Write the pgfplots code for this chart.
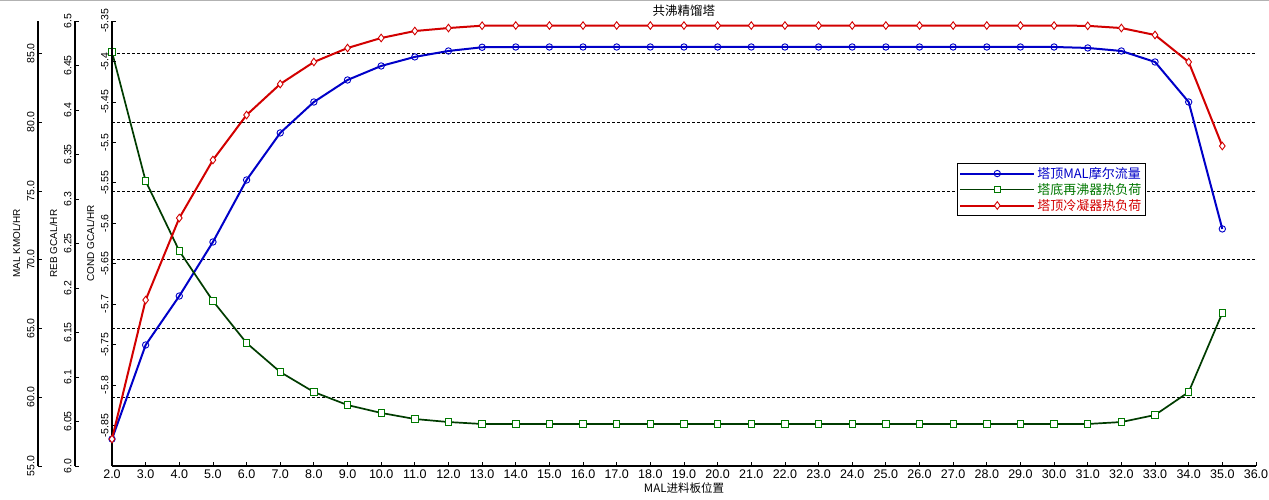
\documentclass[border=0pt]{standalone}
\usepackage{fontspec}
\setmainfont{Liberation Sans}
\newfontfamily\cjk{Noto Sans CJK SC}
\usepackage{pgfplots}
\pgfplotsset{compat=1.18}
\definecolor{malblue}{RGB}{0,0,200}
\definecolor{rebgreen}{RGB}{0,60,0}
\definecolor{rebmark}{RGB}{0,120,0}
\definecolor{condred}{RGB}{210,0,0}
\begin{document}
\begin{tikzpicture}
\path[use as bounding box] (0,0) rectangle (1269pt,500pt);
\draw[gray!60, line width=1.2pt] (0,499.4pt) -- (1269pt,499.4pt);
\pgfplotsset{
  base/.style={
    at={(112pt,34pt)}, anchor=south west,
    scale only axis, width=1144pt, height=445pt,
    xmin=2, xmax=36,
    /pgf/number format/assume math mode=true,
    axis y line*=left,
    y axis line style={line width=1.1pt},
    yticklabel style={rotate=90, anchor=south, font=\fontsize{10.5}{12}\selectfont},
    ylabel style={font=\fontsize{10}{12}\selectfont},
    major tick length=4pt,
    tick style={black, line width=0.8pt},
    clip=false,
  },
  malstyle/.style={malblue, line width=2pt, mark=o, mark size=3.2pt, mark options={solid, line width=0.9pt, fill=white}},
  rebstyle/.style={rebgreen, line width=1.7pt, mark=square*, mark size=3.2pt, mark options={solid, draw=rebmark, line width=0.9pt, fill=white}},
  condstyle/.style={condred, line width=2pt, mark=diamond*, mark size=3.8pt, mark options={solid, line width=0.9pt, fill=white}},
}
% MAL axis
\begin{axis}[base,
  hide x axis,
  axis y line shift=74pt,
  ymin=55, ymax=87.36,
  ytick={55,60,65,70,75,80,85},
  yticklabel style={/pgf/number format/fixed, /pgf/number format/fixed zerofill, /pgf/number format/precision=1},
  ylabel={MAL KMOL/HR},
  ymajorgrids,
  grid style={black, line width=0.8pt, dash pattern=on 2.5pt off 2.5pt},
]
\addplot[malstyle] coordinates {
(2,56.96) (3,63.80) (4,67.36) (5,71.29) (6,75.80) (7,79.22) (8,81.47) (9,83.07)
(10,84.09) (11,84.75) (12,85.18) (13,85.45) (14,85.47) (15,85.47) (16,85.47)
(17,85.47) (18,85.47) (19,85.47) (20,85.47) (21,85.47) (22,85.47) (23,85.47)
(24,85.47) (25,85.47) (26,85.47) (27,85.47) (28,85.47) (29,85.47) (30,85.47)
(31,85.40) (32,85.18) (33,84.38) (34,81.47) (35,72.24)
};
\end{axis}
% REB axis
\begin{axis}[base,
  hide x axis,
  axis y line shift=37pt,
  ymin=6.0, ymax=6.5,
  ytick={6.0,6.05,6.1,6.15,6.2,6.25,6.3,6.35,6.4,6.45,6.5},
  yticklabels={6.0,6.05,6.1,6.15,6.2,6.25,6.3,6.35,6.4,6.45,6.5},
  ylabel={REB GCAL/HR},
]
\addplot[rebstyle] coordinates {
(2,6.4652) (3,6.3202) (4,6.2416) (5,6.1854) (6,6.1382) (7,6.1056) (8,6.0831)
(9,6.0685) (10,6.0596) (11,6.0528) (12,6.0494) (13,6.0472) (14,6.0472)
(15,6.0472) (16,6.0472) (17,6.0472) (18,6.0472) (19,6.0472) (20,6.0472)
(21,6.0472) (22,6.0472) (23,6.0472) (24,6.0472) (25,6.0472) (26,6.0472)
(27,6.0472) (28,6.0472) (29,6.0472) (30,6.0472) (31,6.0472) (32,6.0494)
(33,6.0573) (34,6.0831) (35,6.1719)
};
\end{axis}
% COND axis
\begin{axis}[base,
  axis x line*=bottom,
  x axis line style={line width=1.1pt},
  ymin=-5.9, ymax=-5.35,
  ytick={-5.85,-5.8,-5.75,-5.7,-5.65,-5.6,-5.55,-5.5,-5.45,-5.4,-5.35},
  yticklabels={-5.85,-5.8,-5.75,-5.7,-5.65,-5.6,-5.55,-5.5,-5.45,-5.4,-5.35},
  ylabel={COND GCAL/HR},
  xtick={2,3,...,36},
  xticklabel style={font=\fontsize{12.5}{14}\selectfont, /pgf/number format/fixed, /pgf/number format/fixed zerofill, /pgf/number format/precision=1},
  xlabel={\cjk MAL进料板位置},
  xlabel style={at={(axis description cs:0.5,0)}, anchor=center, yshift=-22pt, font=\fontsize{11.5}{13}\selectfont},
  title={\cjk 共沸精馏塔},
  title style={at={(axis description cs:0.5,1)}, anchor=center, yshift=4pt, font=\fontsize{12.5}{14}\selectfont},
  legend style={at={(0.7386,0.681)}, anchor=north west, draw=black, line width=0.7pt, fill=white,
    font=\cjk\fontsize{13}{15}\selectfont, inner sep=2pt, row sep=-0.5pt, cells={anchor=west}},
  legend image code/.code={\draw[mark repeat=2,mark phase=2,#1] plot coordinates {(0pt,0pt) (37pt,0pt) (74pt,0pt)};},
]
\addlegendimage{malstyle}
\addlegendentry{\textcolor{malblue}{塔顶MAL摩尔流量}}
\addlegendimage{rebstyle, line width=1.7pt, draw=rebgreen}
\addlegendentry{\textcolor{rebmark}{塔底再沸器热负荷}}
\addplot[condstyle] coordinates {
(2,-5.8667) (3,-5.6949) (4,-5.5935) (5,-5.5218) (6,-5.4662) (7,-5.4279)
(8,-5.4007) (9,-5.3834) (10,-5.3710) (11,-5.3624) (12,-5.3587) (13,-5.3558)
(14,-5.3556) (15,-5.3556) (16,-5.3556) (17,-5.3556) (18,-5.3556) (19,-5.3556)
(20,-5.3556) (21,-5.3556) (22,-5.3556) (23,-5.3556) (24,-5.3556) (25,-5.3556)
(26,-5.3556) (27,-5.3556) (28,-5.3556) (29,-5.3556) (30,-5.3556) (31,-5.3560)
(32,-5.3587) (33,-5.3673) (34,-5.4007) (35,-5.5045)
};
\addlegendentry{\textcolor{condred}{塔顶冷凝器热负荷}}
\end{axis}
\end{tikzpicture}
\end{document}
